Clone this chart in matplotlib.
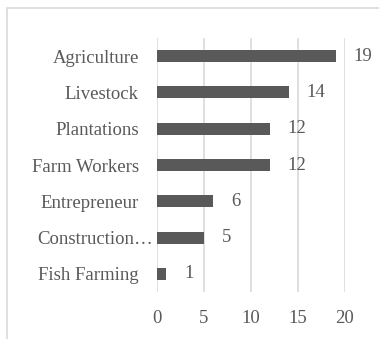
import matplotlib.pyplot as plt
import matplotlib.transforms as mtransforms
from matplotlib.patches import Rectangle

# Occupation categories (top to bottom as shown)
categories = ["Agriculture", "Livestock", "Plantations", "Farm Workers",
              "Entrepreneur", "Construction…", "Fish Farming"]
counts = [19, 14, 12, 12, 6, 5, 1]
x_ticks = [0, 5, 10, 15, 20]

plt.rcParams['font.family'] = ['Liberation Serif', 'DejaVu Serif']
text_color = "#595959"
fs = 13.5

fig = plt.figure(figsize=(3.79, 3.39), dpi=100)
ax = fig.add_axes([157 / 379, 47 / 339, 188 / 379, 254 / 339])

# reverse so the first category is at the top
ypos = list(range(len(categories)))[::-1]
ax.barh(ypos, counts, height=0.33, color="#595959", zorder=3)

for y, v in zip(ypos, counts):
    ax.text(v + 1.9, y, str(v), va="center", ha="left",
            fontsize=fs, color=text_color)

ax.set_yticks(ypos)
ax.set_yticklabels(categories, fontsize=fs, color=text_color)
ax.set_xticks(x_ticks)
ax.set_xticklabels([str(t) for t in x_ticks], fontsize=fs, color=text_color)
ax.set_xlim(0, 20)
ax.set_ylim(-0.5, len(categories) - 0.5)

ax.grid(axis="x", color="#d9d9d9", linewidth=1.2, zorder=0)
for s in ax.spines.values():
    s.set_visible(False)
ax.tick_params(axis="both", length=0)
ax.tick_params(axis="y", pad=13)
ax.tick_params(axis="x", pad=13)

# the truncated label sits closer to the axis
for lbl in ax.get_yticklabels():
    if lbl.get_text().endswith("…"):
        lbl.set_transform(lbl.get_transform() +
                          mtransforms.ScaledTranslation(14 / 100, 0, fig.dpi_scale_trans))

# chart area border (extends past the right and bottom edges)
fig.patches.append(Rectangle((7 / 379, -0.1), 1.2, 1 - 8 / 339 + 0.1,
                             transform=fig.transFigure, fill=False,
                             edgecolor="#d9d9d9", linewidth=1.2))

fig.savefig("out.png", dpi=100)
